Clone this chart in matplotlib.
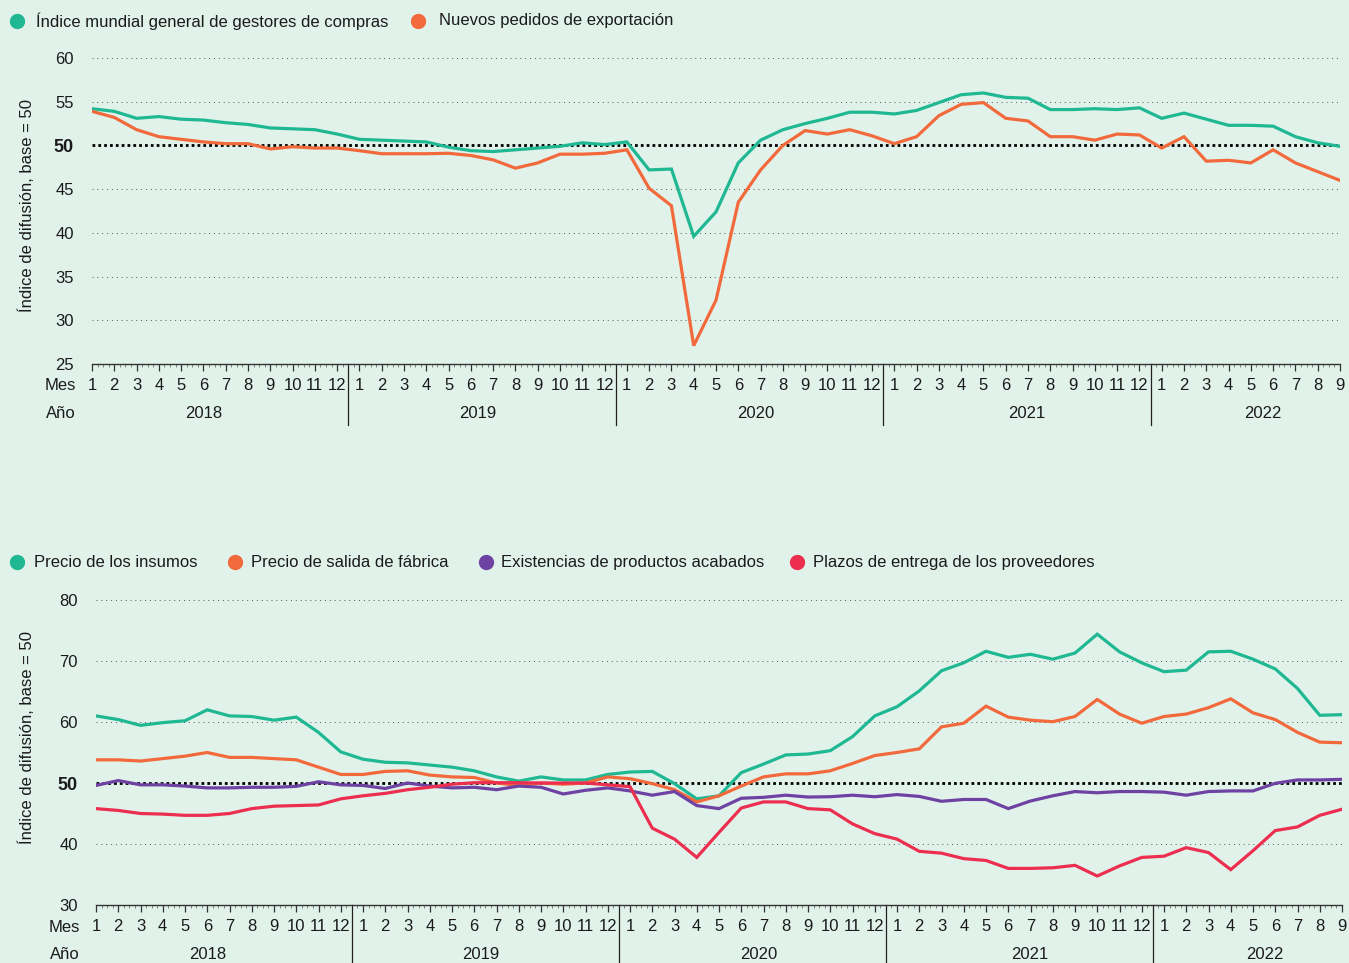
import matplotlib
matplotlib.use("Agg")
import matplotlib.pyplot as plt
from matplotlib.lines import Line2D
import matplotlib.transforms as mtransforms

plt.rcParams['font.family'] = ['Liberation Sans', 'DejaVu Sans']

# ---------------- data ----------------
month_labels = [str(m) for m in list(range(1, 13)) * 4 + list(range(1, 10))]
years = ["2018", "2019", "2020", "2021", "2022"]
year_label_pos = [5.0, 17.3, 29.8, 41.95, 52.55]
year_breaks = [11.5, 23.5, 35.5, 47.5]

pmi_general = [54.2, 53.9, 53.1, 53.3, 53.0, 52.9, 52.6, 52.4, 52.0, 51.9, 51.8, 51.3,
               50.7, 50.6, 50.5, 50.4, 49.8, 49.4, 49.3, 49.5, 49.7, 49.9, 50.3, 50.1,
               50.4, 47.2, 47.3, 39.6, 42.4, 48.0, 50.6, 51.8, 52.5, 53.1, 53.8, 53.8,
               53.6, 54.0, 54.9, 55.8, 56.0, 55.5, 55.4, 54.1, 54.1, 54.2, 54.1, 54.3,
               53.1, 53.7, 53.0, 52.3, 52.3, 52.2, 51.0, 50.3, 49.9]
export_orders = [53.9, 53.2, 51.8, 51.0, 50.7, 50.4, 50.2, 50.2, 49.6, 49.85, 49.7, 49.7,
                 49.4, 49.05, 49.05, 49.05, 49.1, 48.85, 48.35, 47.4, 48.0, 49.0, 49.0, 49.1,
                 49.5, 45.1, 43.1, 27.1, 32.3, 43.5, 47.2, 50.0, 51.7, 51.3, 51.8, 51.1,
                 50.2, 51.0, 53.4, 54.7, 54.9, 53.1, 52.8, 51.0, 51.0, 50.6, 51.3, 51.2,
                 49.7, 51.0, 48.2, 48.3, 48.0, 49.5, 48.0, 47.0, 46.0]

input_prices = [61.0, 60.4, 59.45, 59.9, 60.2, 62.0, 61.0, 60.9, 60.3, 60.8, 58.3, 55.1,
                53.9, 53.4, 53.3, 52.95, 52.6, 52.0, 51.0, 50.3, 51.0, 50.5, 50.5, 51.4,
                51.8, 51.9, 49.9, 47.4, 47.9, 51.7, 53.1, 54.6, 54.75, 55.3, 57.6, 61.0,
                62.5, 65.1, 68.4, 69.7, 71.6, 70.6, 71.1, 70.3, 71.3, 74.4, 71.5, 69.7,
                68.25, 68.5, 71.5, 71.6, 70.3, 68.7, 65.5, 61.1, 61.2]
output_prices = [53.8, 53.8, 53.6, 54.0, 54.4, 55.0, 54.2, 54.2, 54.0, 53.8, 52.6, 51.4,
                 51.4, 51.9, 52.0, 51.3, 51.0, 50.9, 50.0, 49.6, 50.0, 49.8, 50.0, 51.0,
                 50.7, 49.9, 48.9, 46.9, 47.9, 49.5, 51.0, 51.5, 51.5, 52.0, 53.2, 54.5,
                 55.0, 55.6, 59.2, 59.8, 62.6, 60.8, 60.3, 60.05, 60.9, 63.7, 61.3, 59.8,
                 60.9, 61.3, 62.35, 63.8, 61.5, 60.4, 58.3, 56.7, 56.6]
finished_stocks = [49.6, 50.4, 49.7, 49.7, 49.5, 49.2, 49.2, 49.3, 49.3, 49.45, 50.2, 49.7,
                   49.6, 49.1, 50.0, 49.5, 49.2, 49.3, 48.9, 49.5, 49.3, 48.2, 48.8, 49.2,
                   48.7, 48.0, 48.6, 46.3, 45.8, 47.5, 47.65, 48.0, 47.7, 47.75, 48.0, 47.75,
                   48.1, 47.8, 47.0, 47.3, 47.3, 45.8, 47.05, 47.9, 48.6, 48.4, 48.6, 48.6,
                   48.5, 48.0, 48.6, 48.7, 48.7, 49.95, 50.5, 50.5, 50.6]
delivery_times = [45.8, 45.5, 45.0, 44.9, 44.7, 44.7, 45.0, 45.8, 46.2, 46.3, 46.4, 47.4,
                  47.9, 48.3, 48.9, 49.3, 49.8, 50.05, 50.05, 50.05, 50.0, 50.0, 50.0, 49.7,
                  49.4, 42.6, 40.8, 37.8, 41.9, 45.9, 46.9, 46.9, 45.8, 45.6, 43.3, 41.7,
                  40.8, 38.8, 38.5, 37.6, 37.3, 36.0, 36.0, 36.1, 36.5, 34.75, 36.4, 37.8,
                  38.0, 39.4, 38.6, 35.8, 38.9, 42.2, 42.8, 44.7, 45.7]

top_series = [("Índice mundial general de gestores de compras", pmi_general, "#1fb892"),
              ("Nuevos pedidos de exportación", export_orders, "#f26a3c")]
bottom_series = [("Precio de los insumos", input_prices, "#1fb892"),
                 ("Precio de salida de fábrica", output_prices, "#f26a3c"),
                 ("Existencias de productos acabados", finished_stocks, "#6e42a2"),
                 ("Plazos de entrega de los proveedores", delivery_times, "#ec2e4f")]

top_yticks = [25, 30, 35, 40, 45, 50, 55, 60]
bottom_yticks = [30, 40, 50, 60, 70, 80]

# ---------------- layout ----------------
W, H = 1349, 963
BG = "#e1f2eb"
FS = 12
fig = plt.figure(figsize=(W / 100, H / 100), dpi=100, facecolor=BG)


def px_axes(x0, x1, ytop, ybot):
    return fig.add_axes([x0 / W, 1 - ybot / H, (x1 - x0) / W, (ybot - ytop) / H])


ax_top = px_axes(92, 1340, 58, 364)
ax_bot = px_axes(96, 1342, 600, 905)


def style_axis(ax, series, yticks):
    x = list(range(len(month_labels)))
    ax.set_facecolor(BG)
    for name, vals, col in series:
        ax.plot(x, vals, color=col, lw=2.3, solid_joinstyle='miter', zorder=4)
    ax.set_xlim(0, len(month_labels) - 1)
    ax.set_ylim(yticks[0], yticks[-1])
    for sp in ['top', 'right', 'left']:
        ax.spines[sp].set_visible(False)
    ax.spines['bottom'].set_color('#333333')
    ax.spines['bottom'].set_linewidth(1.0)
    # grid
    for t in yticks[1:]:
        if t == 50:
            ax.axhline(50, color='black', lw=2.0, ls=(0, (1, 1.1)), zorder=3)
        else:
            ax.axhline(t, color='#555555', lw=0.7, ls=(0, (1, 4)), zorder=2)
    ax.set_yticks(yticks)
    ax.set_yticklabels([str(t) for t in yticks])
    ax.tick_params(axis='y', length=0, pad=13, labelsize=FS, labelcolor='#1a1a1a')
    for lbl in ax.get_yticklabels():
        if lbl.get_text() == '50':
            lbl.set_fontweight('bold')
            lbl.set_fontsize(FS + 1)
    ax.set_xticks(x)
    ax.set_xticklabels(month_labels)
    ax.tick_params(axis='x', length=5, width=0.9, color='#333333', pad=5,
                   labelsize=FS, labelcolor='#1a1a1a')
    ax.set_xticks([i / 4 for i in range(4 * (len(month_labels) - 1) + 1)], minor=True)
    ax.tick_params(axis='x', which='minor', length=2, width=0.5, color='#555555')
    # year separators
    trans = mtransforms.blended_transform_factory(ax.transData, ax.transAxes)
    axh = ax.get_position().height * H
    for b in year_breaks:
        ax.plot([b, b], [0, -61 / axh], transform=trans, color='#222222', lw=0.9,
                clip_on=False)
    # Mes / Año / years
    ax.annotate("Mes", xy=(0, 0), xycoords='axes fraction', xytext=(-16, -22),
                textcoords='offset pixels', ha='right', va='center', fontsize=FS,
                color='#1a1a1a', annotation_clip=False)
    ax.annotate("Año", xy=(0, 0), xycoords='axes fraction', xytext=(-16, -49),
                textcoords='offset pixels', ha='right', va='center', fontsize=FS,
                color='#1a1a1a', annotation_clip=False)
    for yl, xp in zip(years, year_label_pos):
        ax.annotate(yl, xy=(xp, 0), xycoords=trans, xytext=(0, -49),
                    textcoords='offset pixels', ha='center', va='center', fontsize=FS,
                    color='#1a1a1a', annotation_clip=False)


style_axis(ax_top, top_series, top_yticks)
style_axis(ax_bot, bottom_series, bottom_yticks)

# y labels
fig.text(27 / W, 1 - 205 / H, "Índice de difusión, base = 50", rotation=90,
         ha='center', va='center', fontsize=FS, color='#1a1a1a')
fig.text(27 / W, 1 - 737 / H, "Índice de difusión, base = 50", rotation=90,
         ha='center', va='center', fontsize=FS, color='#1a1a1a')


# legends
def legend_row(series, ypx, circ_x, text_x):
    for (name, vals, col), cx, tx in zip(series, circ_x, text_x):
        fig.add_artist(Line2D([cx / W], [1 - ypx / H], marker='o', markersize=10,
                              color=col, transform=fig.transFigure))
        fig.text(tx / W, 1 - ypx / H, name, ha='left', va='center', fontsize=FS,
                 color='#1a1a1a')


legend_row(top_series, 21, [17, 418], [36, 439])
legend_row(bottom_series, 562, [17, 235, 486, 797], [34, 251, 501, 813])

fig.savefig("out.png", dpi=100, facecolor=BG)
